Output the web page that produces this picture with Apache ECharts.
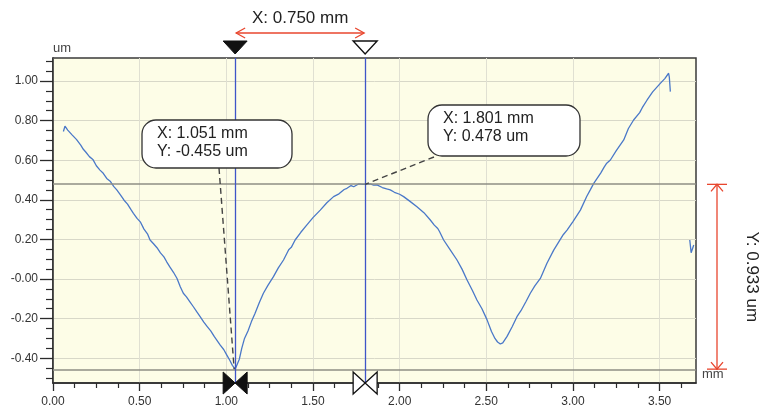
<!DOCTYPE html>
<html>
<head>
<meta charset="utf-8">
<script src="https://cdn.jsdelivr.net/npm/echarts@6/dist/echarts.min.js"></script>
<style>
  html, body { margin: 0; padding: 0; background: #fff; }
  #chart { width: 760px; height: 408px; }
</style>
</head>
<body>
<div id="chart"></div>
<script>
// profile trace (x in mm, y in um)
const profileX = [
  0.060, 0.069, 0.085, 0.110, 0.135, 0.160, 0.175, 0.190, 0.210, 0.230,
  0.250, 0.271, 0.290, 0.310, 0.330, 0.350, 0.368, 0.390, 0.410, 0.430,
  0.450, 0.464, 0.485, 0.505, 0.525, 0.545, 0.560, 0.580, 0.600, 0.620,
  0.640, 0.656, 0.675, 0.695, 0.715, 0.735, 0.752, 0.770, 0.790, 0.810,
  0.830, 0.849, 0.870, 0.890, 0.910, 0.930, 0.945, 0.965, 0.985, 1.003,
  1.020, 1.035, 1.051, 1.060, 1.075, 1.089, 1.105, 1.125, 1.145, 1.166,
  1.190, 1.214, 1.240, 1.272, 1.300, 1.330, 1.360, 1.375, 1.397, 1.430,
  1.465, 1.500, 1.542, 1.580, 1.619, 1.650, 1.680, 1.696, 1.720, 1.735,
  1.763, 1.785, 1.801, 1.830, 1.850, 1.869, 1.900, 1.925, 1.946, 1.970,
  2.000, 2.023, 2.060, 2.100, 2.140, 2.177, 2.200, 2.220, 2.230, 2.254,
  2.290, 2.331, 2.360, 2.389, 2.420, 2.446, 2.475, 2.504, 2.530, 2.550,
  2.565, 2.581, 2.595, 2.619, 2.650, 2.677, 2.700, 2.730, 2.754, 2.780,
  2.812, 2.850, 2.889, 2.920, 2.945, 2.966, 3.000, 3.043, 3.080, 3.100,
  3.120, 3.160, 3.180, 3.195, 3.216, 3.250, 3.293, 3.320, 3.350, 3.385,
  3.400, 3.428, 3.460, 3.504, 3.530, 3.552, 3.556, 3.562
]
const profileY = [
  0.745, 0.772, 0.752, 0.728, 0.705, 0.676, 0.655, 0.640, 0.618, 0.604,
  0.572, 0.550, 0.534, 0.508, 0.494, 0.468, 0.450, 0.424, 0.398, 0.378,
  0.350, 0.332, 0.306, 0.287, 0.252, 0.228, 0.197, 0.178, 0.158, 0.132,
  0.112, 0.087, 0.060, 0.034, 0.004, -0.040, -0.072, -0.090, -0.115, -0.140,
  -0.166, -0.190, -0.218, -0.240, -0.262, -0.290, -0.308, -0.334, -0.356, -0.384,
  -0.410, -0.436, -0.455, -0.445, -0.405, -0.350, -0.300, -0.262, -0.215, -0.173,
  -0.120, -0.072, -0.032, 0.012, 0.056, 0.096, 0.148, 0.160, 0.197, 0.236,
  0.273, 0.310, 0.348, 0.385, 0.416, 0.430, 0.452, 0.458, 0.472, 0.466,
  0.480, 0.478, 0.478, 0.480, 0.474, 0.475, 0.462, 0.455, 0.450, 0.438,
  0.428, 0.416, 0.392, 0.365, 0.335, 0.298, 0.272, 0.255, 0.240, 0.197,
  0.150, 0.096, 0.050, -0.005, -0.058, -0.106, -0.150, -0.205, -0.265, -0.300,
  -0.318, -0.328, -0.322, -0.291, -0.240, -0.190, -0.160, -0.112, -0.072, -0.035,
  0.003, 0.080, 0.146, 0.190, 0.225, 0.247, 0.290, 0.348, 0.418, 0.450,
  0.483, 0.535, 0.565, 0.585, 0.601, 0.648, 0.702, 0.760, 0.803, 0.840,
  0.865, 0.904, 0.945, 0.988, 1.012, 1.039, 1.020, 0.946
]
// stray piece of trace at the right border
const fragmentX = [3.674, 3.682, 3.697]
const fragmentY = [0.197, 0.133, 0.172]

// cursors
const cursorX = [1.051, 1.801]
const cursorY = [-0.455, 0.478]
const cursorText = [['X: 1.051 mm', 'Y: -0.455 um'], ['X: 1.801 mm', 'Y: 0.478 um']]
const deltaXText = 'X: 0.750 mm'
const deltaYText = 'Y: 0.933 um'

// axes
const xMin = 0
const xMax = 3.71
const yMin = -0.525
const yMax = 1.116
const xTickValues = [0, 0.5, 1.0, 1.5, 2.0, 2.5, 3.0, 3.5]
const xTickLabels = ['0.00', '0.50', '1.00', '1.50', '2.00', '2.50', '3.00', '3.50']
const xMinorTicks = [0.125, 0.25, 0.375, 0.625, 0.75, 0.875, 1.125, 1.25, 1.375, 1.625, 1.75, 1.875,
  2.125, 2.25, 2.375, 2.625, 2.75, 2.875, 3.125, 3.25, 3.375, 3.625]
const yTickValues = [-0.4, -0.2, 0, 0.2, 0.4, 0.6, 0.8, 1.0]
const yTickLabels = ['-0.40', '-0.20', '-0.00', '0.20', '0.40', '0.60', '0.80', '1.00']
const yMinorTicks = [-0.5, -0.45, -0.35, -0.3, -0.25, -0.15, -0.1, -0.05, 0.05, 0.1, 0.15,
  0.25, 0.3, 0.35, 0.45, 0.5, 0.55, 0.65, 0.7, 0.75, 0.85, 0.9, 0.95, 1.05, 1.1]

const FONT = 'Liberation Sans, Arial, sans-serif'
const RED = '#e8462e'
const CURSOR_BLUE = '#3f55c8'

function pickLabel(values, labels, v) {
  const i = values.findIndex(t => Math.abs(t - v) < 1e-6)
  return i < 0 ? '' : labels[i]
}

const chart = echarts.init(document.getElementById('chart'))

chart.setOption({
  animation: false,
  backgroundColor: '#fff',
  textStyle: { fontFamily: FONT },
  grid: {
    left: 53, right: 64, top: 58, bottom: 25,
    show: true,
    backgroundColor: '#fdfde7',
    borderColor: '#3a3a3a',
    borderWidth: 1.5
  },
  xAxis: [
    {
      type: 'value', min: xMin, max: xMax, position: 'bottom',
      name: 'mm', nameLocation: 'end', nameGap: 6,
      nameTextStyle: { color: '#444', fontSize: 13, verticalAlign: 'bottom', padding: [0, 0, 2, 0] },
      axisLine: { show: true, onZero: false, lineStyle: { color: '#2b2b2b', width: 1.5 } },
      axisTick: { show: true, customValues: xTickValues, length: 8, lineStyle: { color: '#2b2b2b', width: 1.3 } },
      axisLabel: {
        customValues: xTickValues, margin: 13, fontSize: 12, color: '#333',
        formatter: v => pickLabel(xTickValues, xTickLabels, v)
      },
      splitLine: { show: true, lineStyle: { color: '#e0e0d2', width: 1 } }
    },
    {
      type: 'value', min: xMin, max: xMax, position: 'bottom',
      axisLine: { show: false, onZero: false },
      axisTick: { show: true, customValues: xMinorTicks, length: 5, lineStyle: { color: '#2b2b2b', width: 1.2 } },
      axisLabel: { show: false },
      splitLine: { show: false }
    }
  ],
  yAxis: [
    {
      type: 'value', min: yMin, max: yMax, position: 'left',
      name: 'um', nameLocation: 'end', nameGap: 3,
      nameTextStyle: { color: '#444', fontSize: 13, align: 'left' },
      axisLine: { show: true, onZero: false, lineStyle: { color: '#2b2b2b', width: 1.5 } },
      axisTick: { show: true, customValues: yTickValues, length: 13, lineStyle: { color: '#2b2b2b', width: 1.3 } },
      axisLabel: {
        customValues: yTickValues, margin: 15, fontSize: 12, color: '#333',
        formatter: v => pickLabel(yTickValues, yTickLabels, v)
      },
      splitLine: { show: true, lineStyle: { color: '#d8d8c8', width: 1 } }
    },
    {
      type: 'value', min: yMin, max: yMax, position: 'left',
      axisLine: { show: false, onZero: false },
      axisTick: { show: true, customValues: yMinorTicks, length: 7, lineStyle: { color: '#2b2b2b', width: 1.2 } },
      axisLabel: { show: false },
      splitLine: { show: false }
    }
  ],
  series: [
    {
      name: 'profile',
      type: 'line',
      showSymbol: false,
      data: profileX.map((x, i) => [x, profileY[i]]),
      lineStyle: { color: '#4a78c8', width: 1.3 },
      markLine: {
        silent: true,
        symbol: 'none',
        label: { show: false },
        data: [
          { yAxis: cursorY[1], lineStyle: { color: '#8e8e84', width: 1.5, type: 'solid' } },
          { yAxis: cursorY[0], lineStyle: { color: '#8e8e84', width: 1.5, type: 'solid' } },
          { xAxis: cursorX[0], lineStyle: { color: CURSOR_BLUE, width: 1.3, type: 'solid' } },
          { xAxis: cursorX[1], lineStyle: { color: CURSOR_BLUE, width: 1.3, type: 'solid' } }
        ]
      },
      z: 3
    },
    {
      name: 'fragment',
      type: 'line',
      showSymbol: false,
      data: fragmentX.map((x, i) => [x, fragmentY[i]]),
      lineStyle: { color: '#4a78c8', width: 1.3 },
      z: 3
    }
  ]
})

// cursor decorations, placed from the axis scales
const xa = chart.convertToPixel({ xAxisIndex: 0 }, cursorX[0])
const xb = chart.convertToPixel({ xAxisIndex: 0 }, cursorX[1])
const ya = chart.convertToPixel({ yAxisIndex: 0 }, cursorY[0])
const yb = chart.convertToPixel({ yAxisIndex: 0 }, cursorY[1])
const plotTop = chart.convertToPixel({ yAxisIndex: 0 }, yMax)
const plotBottom = chart.convertToPixel({ yAxisIndex: 0 }, yMin)
const plotRight = chart.convertToPixel({ xAxisIndex: 0 }, xMax)

function bowtie(cx, cy, filled) {
  const w = 12, h = 11
  const style = filled ? { fill: '#111', stroke: '#111', lineWidth: 1 } : { fill: '#fff', stroke: '#111', lineWidth: 1.3 }
  return [
    { type: 'polygon', z: 100, shape: { points: [[cx - w, cy - h], [cx - w, cy + h], [cx, cy]] }, style },
    { type: 'polygon', z: 100, shape: { points: [[cx + w, cy - h], [cx + w, cy + h], [cx, cy]] }, style }
  ]
}

function topMarker(cx, filled) {
  const style = filled ? { fill: '#111', stroke: '#111', lineWidth: 1 } : { fill: '#fff', stroke: '#111', lineWidth: 1.4 }
  return { type: 'polygon', z: 100, shape: { points: [[cx - 12, plotTop - 17], [cx + 12, plotTop - 17], [cx, plotTop - 4]] }, style }
}

function calloutBox(x, y, w, h, lines) {
  return [
    { type: 'rect', z: 90, shape: { x, y, width: w, height: h, r: 14 }, style: { fill: '#fff', stroke: '#333', lineWidth: 1.3 } },
    { type: 'text', z: 91, x: x + 15, y: y + 14, style: { text: lines[0], font: '16px ' + FONT, fill: '#222', verticalAlign: 'middle' } },
    { type: 'text', z: 91, x: x + 15, y: y + 32, style: { text: lines[1], font: '16px ' + FONT, fill: '#222', verticalAlign: 'middle' } }
  ]
}

const dimX = plotRight + 21
const arrowY = plotTop - 25

const graphics = [
  // dashed leaders from callouts to the cursor points
  { type: 'line', z: 80, shape: { x1: 219, y1: 168, x2: xa - 1, y2: ya }, style: { stroke: '#444', lineWidth: 1.4, lineDash: [6, 4] } },
  { type: 'line', z: 80, shape: { x1: 434, y1: 157, x2: xb, y2: yb }, style: { stroke: '#444', lineWidth: 1.4, lineDash: [6, 4] } },
  ...calloutBox(142, 120, 150, 48, cursorText[0]),
  ...calloutBox(428, 105, 152, 51, cursorText[1]),
  // top cursor markers and X distance
  topMarker(xa, true),
  topMarker(xb, false),
  { type: 'line', z: 100, shape: { x1: xa + 1, y1: arrowY, x2: xb - 1, y2: arrowY }, style: { stroke: RED, lineWidth: 1.3 } },
  { type: 'polyline', z: 100, shape: { points: [[xa + 10, arrowY - 5], [xa + 1, arrowY], [xa + 10, arrowY + 5]] }, style: { stroke: RED, lineWidth: 1.3, fill: null } },
  { type: 'polyline', z: 100, shape: { points: [[xb - 10, arrowY - 5], [xb - 1, arrowY], [xb - 10, arrowY + 5]] }, style: { stroke: RED, lineWidth: 1.3, fill: null } },
  { type: 'text', z: 100, x: (xa + xb) / 2, y: plotTop - 40, style: { text: deltaXText, font: '17px ' + FONT, fill: '#222', align: 'center', verticalAlign: 'middle' } },
  // bottom cursor markers
  ...bowtie(xa, plotBottom, true),
  ...bowtie(xb, plotBottom, false),
  // Y distance on the right
  { type: 'line', z: 100, shape: { x1: dimX, y1: yb, x2: dimX, y2: ya }, style: { stroke: RED, lineWidth: 1.3 } },
  { type: 'line', z: 100, shape: { x1: dimX - 10, y1: yb, x2: dimX + 10, y2: yb }, style: { stroke: RED, lineWidth: 1.3 } },
  { type: 'line', z: 100, shape: { x1: dimX - 10, y1: ya, x2: dimX + 10, y2: ya }, style: { stroke: RED, lineWidth: 1.3 } },
  { type: 'polyline', z: 100, shape: { points: [[dimX - 6, yb + 7], [dimX, yb], [dimX + 6, yb + 7]] }, style: { stroke: RED, lineWidth: 1.3, fill: null } },
  { type: 'polyline', z: 100, shape: { points: [[dimX - 6, ya - 7], [dimX, ya], [dimX + 6, ya - 7]] }, style: { stroke: RED, lineWidth: 1.3, fill: null } },
  { type: 'text', z: 100, x: plotRight + 56, y: (ya + yb) / 2, rotation: -Math.PI / 2, style: { text: deltaYText, font: '17px ' + FONT, fill: '#222', align: 'center', verticalAlign: 'middle' } }
]

chart.setOption({ graphic: graphics })
</script>
</body>
</html>
